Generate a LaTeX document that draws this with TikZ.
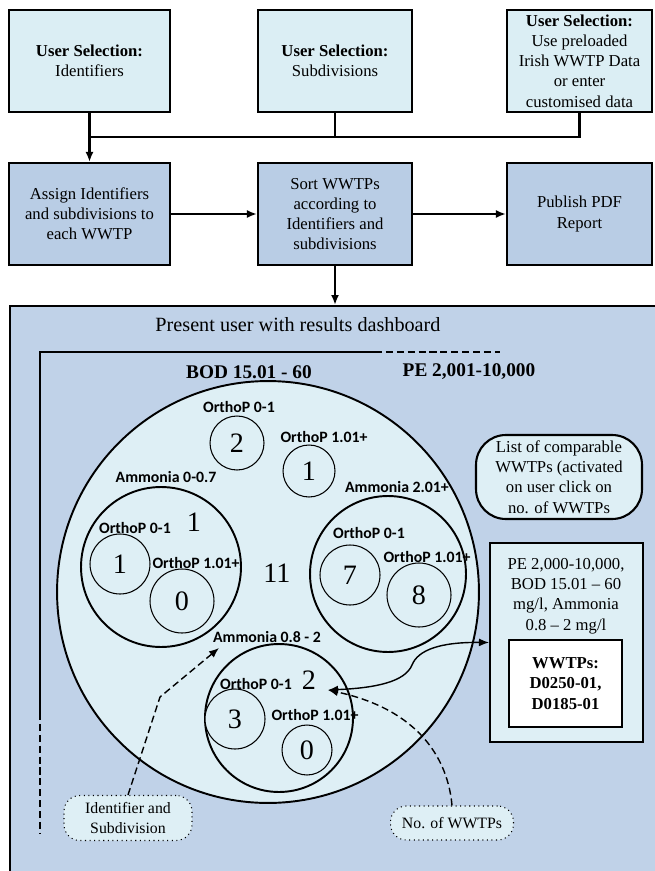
\documentclass[tikz,border=0pt]{standalone}
\usepackage{fontspec}
\setmainfont{Liberation Serif}
\newfontfamily\calibfont{Carlito}
\usetikzlibrary{arrows.meta}
\definecolor{selfill}{RGB}{219,238,244}
\definecolor{procfill}{RGB}{185,205,229}
\definecolor{panelfill}{RGB}{192,210,232}
\definecolor{ringfill}{RGB}{222,239,245}
\tikzset{
  selbox/.style={draw, line width=1.2pt, fill=selfill, minimum height=2.04cm, inner sep=1pt, align=center, font=\fontsize{9.5}{11.5}\selectfont},
  procbox/.style={selbox, fill=procfill},
  ring/.style={circle, draw, line width=1.1pt, fill=ringfill, inner sep=0pt},
  tally/.style={circle, draw, line width=0.6pt, fill=ringfill, inner sep=0pt, font=\fontsize{16}{16}\selectfont},
  tallynum/.style={inner sep=0pt, font=\fontsize{16}{16}\selectfont},
  rangelabel/.style={inner sep=0pt, font=\calibfont\bfseries\fontsize{9}{10}\selectfont},
  notebox/.style={draw, dotted, line width=0.6pt, rounded corners=9pt, fill=ringfill, align=center, font=\fontsize{9}{11}\selectfont},
  flow/.style={line width=1.2pt, -{Latex[length=2mm,width=1.6mm]}},
  dashlink/.style={line width=0.8pt, dash pattern=on 4pt off 2.2pt, -{Latex[length=2mm,width=1.6mm]}},
}
\begin{document}
\begin{tikzpicture}[x=0.02cm, y=-0.02cm]
  \useasboundingbox (0,0) rectangle (654,871);
  \node[selbox, minimum width=3.22cm] (selid) at (89.5,61) {\textbf{User Selection:}\\Identifiers};
  \node[selbox, minimum width=3.08cm] (selsub) at (335,61) {\textbf{User Selection:}\\Subdivisions};
  \node[selbox, minimum width=2.9cm] (seldata) at (579.5,61) {\textbf{User Selection:}\\Use preloaded\\Irish WWTP Data\\or enter\\customised data};
  \node[procbox, minimum width=3.22cm] (assign) at (89.5,214) {Assign Identifiers\\and subdivisions to\\each WWTP};
  \node[procbox, minimum width=3.08cm] (sort) at (335,214) {Sort WWTPs\\according to\\Identifiers and\\subdivisions};
  \node[procbox, minimum width=2.9cm] (publish) at (579.5,214) {Publish PDF\\Report};
  \coordinate (merge) at (89.5,137);
  \draw[line width=1.2pt] (seldata.south) |- (merge);
  \draw[line width=1.2pt] (selsub.south) -- (selsub.south |- merge);
  \draw[flow] (selid.south) -- (assign.north);
  \draw[flow] (assign.east) -- (sort.west);
  \draw[flow] (sort.east) -- (publish.west);
  \node[draw, line width=1.2pt, fill=panelfill, anchor=north west, minimum width=13.4cm, minimum height=12cm] (panel) at (9,305) {};
  \draw[flow] (sort.south) -- (sort.south |- panel.north);
  \node[font=\fontsize{11.5}{13}\selectfont] (paneltitle) at (298,325) {Present user with results dashboard};
  \draw[line width=0.8pt] (375,352) -| (40,713);
  \draw[line width=0.8pt, dash pattern=on 4pt off 2.2pt] (375,352) -- (500,352);
  \draw[line width=0.8pt, dash pattern=on 4pt off 2.2pt] (40,713) -- (40,833);
  \node[font=\bfseries\fontsize{11}{13}\selectfont] (bodhead) at (249,372) {BOD 15.01 - 60};
  \node[font=\bfseries\fontsize{11}{13}\selectfont] (pehead) at (469,372) {PE 2,001-10,000};
  \node[ring, minimum size=8.44cm] (bod) at (268,592) {};
  \node[ring, minimum size=3.2cm] (amlow) at (161,567) {};
  \node[ring, minimum size=3.12cm] (amhigh) at (388,574) {};
  \node[ring, minimum size=2.96cm] (ammid) at (279,718) {};
  \node[tally, minimum size=1.08cm] (topa) at (237,443) {2};
  \node[tally, minimum size=1.04cm] (topb) at (309,471) {1};
  \node[tally, minimum size=1.2cm] (lowa) at (120,564) {1};
  \node[tally, minimum size=1.28cm] (lowb) at (182,601) {0};
  \node[tally, minimum size=1.2cm] (higha) at (350,575) {7};
  \node[tally, minimum size=1.28cm] (highb) at (419,595) {8};
  \node[tally, minimum size=1.2cm] (mida) at (235,719) {3};
  \node[tally, minimum size=1.0cm] (midb) at (307,750) {0};
  \node[tallynum] (lowsum) at (194,522) {1};
  \node[tallynum] (bodsum) at (277,573) {11};
  \node[tallynum] (midsum) at (309,680) {2};
  \node[rangelabel] (ltopa) at (239,407) {OrthoP 0-1};
  \node[rangelabel] (ltopb) at (324,437) {OrthoP 1.01+};
  \node[rangelabel] (lamlow) at (166,477) {Ammonia 0-0.7};
  \node[rangelabel] (llowa) at (135,528) {OrthoP 0-1};
  \node[rangelabel] (llowb) at (196,563) {OrthoP 1.01+};
  \node[rangelabel] (lamhigh) at (397,487) {Ammonia 2.01+};
  \node[rangelabel] (lhigha) at (369,533) {OrthoP 0-1};
  \node[rangelabel] (lhighb) at (427,557) {OrthoP 1.01+};
  \node[rangelabel] (lammid) at (267,637) {Ammonia 0.8 - 2};
  \node[rangelabel] (lmida) at (256,684) {OrthoP 0-1};
  \node[rangelabel] (lmidb) at (315,715) {OrthoP 1.01+};
  \node[draw, line width=1.2pt, rounded corners=17pt, fill=ringfill, minimum width=3.32cm, minimum height=1.68cm, inner sep=1pt, align=center, font=\fontsize{9.5}{11.5}\selectfont] (listnote) at (559,477) {List of comparable\\WWTPs (activated\\on user click on\\no. of WWTPs};
  \node[draw, line width=1.2pt, fill=ringfill, minimum width=3.06cm, minimum height=3.98cm] (info) at (566.5,642.5) {};
  \node[inner sep=0pt, align=center, font=\fontsize{9.5}{11.5}\selectfont] (infotext) at (566,596) {PE 2,000-10,000,\\BOD 15.01 -- 60\\mg/l, Ammonia\\0.8 -- 2 mg/l};
  \node[draw, line width=1.2pt, fill=white, minimum width=2.26cm, minimum height=1.74cm, inner sep=1pt, align=center, font=\bfseries\fontsize{9.5}{11.5}\selectfont] (wwtps) at (565.5,683.5) {WWTPs:\\D0250-01,\\D0185-01};
  \coordinate (hit) at (328,690);
  \draw[line width=0.8pt, {Latex[length=2mm,width=1.6mm]}-{Latex[length=2mm,width=1.6mm]}] (hit) .. controls (375,688) and (405,682) .. (412,665) .. controls (418,650) and (440,642) .. (info.west);
  \node[notebox, minimum width=2.56cm, minimum height=0.9cm] (idnote) at (128,818) {Identifier and\\Subdivision};
  \node[notebox, minimum width=2.46cm, minimum height=0.68cm] (countnote) at (452,823) {No. of WWTPs};
  \coordinate (bend) at (160,697);
  \coordinate (amtip) at (219,648);
  \draw[dashlink] (idnote.north) -- (bend) -- (amtip);
  \draw[dashlink] (countnote.north) .. controls (448,760) and (420,710) .. (hit);
\end{tikzpicture}
\end{document}
